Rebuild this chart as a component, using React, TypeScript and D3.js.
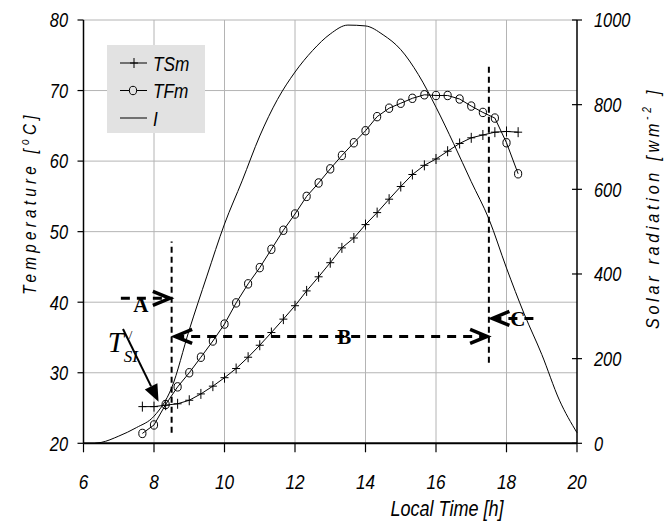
import React from 'react';
import * as d3 from 'd3';

// local time [h], 20 min steps
const hours = [7.67, 8.0, 8.33, 8.67, 9.0, 9.33, 9.67, 10.0, 10.33, 10.67, 11.0, 11.33, 11.67, 12.0, 12.33, 12.67, 13.0,
  13.33, 13.67, 14.0, 14.33, 14.67, 15.0, 15.33, 15.67, 16.0, 16.33, 16.67, 17.0, 17.33, 17.67, 18.0, 18.33];
const tsm = [25.2, 25.2, 25.4, 25.6, 26.1, 27.0, 28.1, 29.3, 30.6, 32.2, 33.9, 35.7, 37.6, 39.5, 41.6, 43.6, 45.6,
  47.7, 49.1, 51.0, 52.7, 54.6, 56.4, 58.1, 59.4, 60.3, 61.4, 62.5, 63.3, 63.7, 64.1, 64.2, 64.1];
const tfm = [21.4, 22.6, 25.5, 28.0, 30.0, 32.2, 34.5, 36.9, 39.9, 42.6, 44.9, 47.5, 50.2, 52.5, 55.0, 56.9, 58.9,
  60.8, 62.6, 64.3, 66.3, 67.5, 68.2, 68.9, 69.4, 69.3, 69.3, 68.8, 67.8, 66.9, 66.1, 62.6, 58.2];

// solar radiation I [W/m2]
const solarHours = [6.33, 6.5, 7.0, 7.5, 8.0, 8.5, 9.0, 9.5, 10.0, 10.5, 11.0, 11.5, 12.0, 12.5, 13.0, 13.5, 14.0,
  14.5, 15.0, 15.5, 16.0, 16.5, 17.0, 17.5, 18.0, 18.5, 19.0, 19.5, 20.0];
const solarValues = [0, 2, 17, 37, 64, 131, 268, 395, 518, 620, 726, 812, 877, 928, 967, 988, 986,
  965, 930, 871, 794, 708, 618, 530, 414, 306, 210, 102, 25];

const timeTicks = [6, 8, 10, 12, 14, 16, 18, 20];
const tempTicks = [20, 30, 40, 50, 60, 70, 80];
const radTicks = [0, 200, 400, 600, 800, 1000];

// annotation positions in data units (time, temperature)
const splitLines = [
  { t: 8.5, from: 21.5, to: 48.6 },
  { t: 17.5, from: 31.4, to: 73.4 },
];
const periods = [
  { label: 'A', t0: 7.06, t1: 8.45, temp: 40.55, lt: 7.63, ltemp: 38.6, heads: ['end'] },
  { label: 'B', t0: 8.6, t1: 17.45, temp: 35.15, lt: 13.4, ltemp: 34.1, heads: ['start', 'end'] },
  { label: 'C', t0: 17.6, t1: 18.84, temp: 37.7, lt: 18.32, ltemp: 36.6, heads: ['start'] },
];
const tsiArrow = { t0: 7.12, temp0: 36.2, t1: 8.13, temp1: 25.9 };
const tsiLabel = { t: 6.69, temp: 32.9 };

const sans = "'Liberation Sans', Arial, sans-serif";
const serif = "'Liberation Serif', 'Times New Roman', serif";

// narrow italic text (Arial Narrow look), squeezed horizontally
function NText(props: { x: number; y: number; size: number; anchor?: string; rotate?: number; sx?: number;
  spacing?: number; children: React.ReactNode }) {
  const { x, y, size, anchor = 'start', rotate = 0, sx = 0.82, spacing = 0, children } = props;
  return (
    <text transform={`translate(${x},${y}) rotate(${rotate}) scale(${sx},1)`} textAnchor={anchor}
      fontFamily={sans} fontStyle="italic" fontSize={size} letterSpacing={spacing}>{children}</text>
  );
}

export default function App() {
  const left = 83.5, right = 577, top = 20, bottom = 443.3;
  const x = d3.scaleLinear().domain([6, 20]).range([left, right]);
  const yT = d3.scaleLinear().domain([20, 80]).range([bottom, top]);
  const yI = d3.scaleLinear().domain([0, 1000]).range([bottom, top]);

  const tLine = d3.line<number>().x((d, i) => x(hours[i])).y(d => yT(d));
  const iLine = d3.line<number>().x((d, i) => x(solarHours[i])).y(d => yI(d)).curve(d3.curveMonotoneX);

  const plus = 'M-4,0H4M0,-5V5';
  const grid = '#b4b4b4';

  const chevron = (tipX: number, tipY: number, dir: number) =>
    `M${tipX - dir * 17},${tipY - 7}L${tipX},${tipY}L${tipX - dir * 17},${tipY + 7}`;

  const ax0 = x(tsiArrow.t0), ay0 = yT(tsiArrow.temp0), ax1 = x(tsiArrow.t1), ay1 = yT(tsiArrow.temp1);
  const ang = Math.atan2(ay1 - ay0, ax1 - ax0);
  const hl = 17, hw = 7;
  const bx = ax1 - hl * Math.cos(ang), by = ay1 - hl * Math.sin(ang);
  const head = `M${ax1},${ay1}L${bx + hw * Math.sin(ang)},${by - hw * Math.cos(ang)}L${bx - hw * Math.sin(ang)},${by + hw * Math.cos(ang)}Z`;

  const legend = [
    { name: 'TSm', mark: 'plus' },
    { name: 'TFm', mark: 'circle' },
    { name: 'I', mark: 'none' },
  ];

  return (
    <svg width={668} height={522} style={{ position: 'absolute', left: 0, top: 0, background: '#fff' }}>
      {/* grid */}
      {timeTicks.slice(1, -1).map(t => (
        <line key={'gx' + t} x1={x(t)} x2={x(t)} y1={top} y2={bottom} stroke={grid} strokeWidth={1} />
      ))}
      {tempTicks.slice(1).map(v => (
        <line key={'gy' + v} x1={left} x2={right} y1={yT(v)} y2={yT(v)} stroke={grid} strokeWidth={1} />
      ))}

      {/* axes */}
      <line x1={left} x2={left} y1={top} y2={bottom} stroke="#000" strokeWidth={1.5} />
      <line x1={right} x2={right} y1={top} y2={bottom} stroke="#000" strokeWidth={1.5} />
      <line x1={left} x2={right} y1={bottom} y2={bottom} stroke="#000" strokeWidth={2} />
      {tempTicks.map(v => (
        <g key={'lt' + v}>
          <line x1={left - 6} x2={left} y1={yT(v)} y2={yT(v)} stroke="#000" strokeWidth={1.2} />
          <NText x={68} y={yT(v) + 7.3} size={20} anchor="end">{v}</NText>
        </g>
      ))}
      {radTicks.map(v => (
        <g key={'rt' + v}>
          <line x1={right - 5} x2={right + 5} y1={yI(v)} y2={yI(v)} stroke="#000" strokeWidth={1.2} />
          <NText x={594} y={yI(v) + 7.3} size={20}>{v}</NText>
        </g>
      ))}
      {timeTicks.map(t => (
        <g key={'bt' + t}>
          <line x1={x(t)} x2={x(t)} y1={bottom} y2={bottom + 9} stroke="#000" strokeWidth={1.2} />
          <NText x={x(t)} y={489} size={21} anchor="middle">{t}</NText>
        </g>
      ))}

      {/* axis titles */}
      <NText x={447} y={516} size={22} anchor="middle">Local Time [h]</NText>
      <NText x={36} y={203} size={18} anchor="middle" rotate={-90} sx={0.85} spacing={5}>
        Temperature [<tspan fontSize={12} dy={-7}>o</tspan><tspan dy={7}>C]</tspan>
      </NText>
      <NText x={659} y={208} size={19} anchor="middle" rotate={-90} sx={0.85} spacing={4.4}>
        Solar radiation [wm<tspan fontSize={12} dy={-8}>-2</tspan><tspan dy={8}> ]</tspan>
      </NText>

      {/* series */}
      <path d={iLine(solarValues) || ''} fill="none" stroke="#000" strokeWidth={1} />
      <path d={tLine(tsm) || ''} fill="none" stroke="#000" strokeWidth={1} />
      <path d={tLine(tfm) || ''} fill="none" stroke="#000" strokeWidth={1} />
      {tsm.map((v, i) => (
        <path key={'p' + i} d={plus} transform={`translate(${x(hours[i])},${yT(v)})`} stroke="#000" strokeWidth={1} />
      ))}
      {tfm.map((v, i) => (
        <ellipse key={'c' + i} cx={x(hours[i])} cy={yT(v)} rx={3.6} ry={4.2} fill="none" stroke="#000" strokeWidth={1} />
      ))}

      {/* annotations */}
      {splitLines.map(s => (
        <line key={'s' + s.t} x1={x(s.t)} x2={x(s.t)} y1={yT(s.from)} y2={yT(s.to)} stroke="#000" strokeWidth={2}
          strokeDasharray="6,4" />
      ))}
      {periods.map(p => {
        const x0 = x(p.t0), x1 = x(p.t1), yy = yT(p.temp);
        return (
          <g key={p.label}>
            <line x1={x0} x2={x1} y1={yy} y2={yy} stroke="#000" strokeWidth={3} strokeDasharray="9,7" />
            {p.heads.includes('end') && <path d={chevron(x1, yy, 1)} fill="none" stroke="#000" strokeWidth={3.5} />}
            {p.heads.includes('start') && <path d={chevron(x0, yy, -1)} fill="none" stroke="#000" strokeWidth={3.5} />}
            <text x={x(p.lt)} y={yT(p.ltemp)} textAnchor="middle" fontFamily={serif} fontWeight="bold" fontSize={21}>{p.label}</text>
          </g>
        );
      })}
      <text x={x(tsiLabel.t)} y={yT(tsiLabel.temp)} fontFamily={serif} fontStyle="italic" fontSize={29}>T</text>
      <text x={x(tsiLabel.t) + 16} y={yT(tsiLabel.temp) + 10} fontFamily={serif} fontStyle="italic" fontSize={17}>SI</text>
      <text x={x(tsiLabel.t) + 21} y={yT(tsiLabel.temp) - 13} fontFamily={serif} fontSize={13}>/</text>
      <line x1={ax0} y1={ay0} x2={bx} y2={by} stroke="#000" strokeWidth={2} />
      <path d={head} fill="#000" />

      {/* legend */}
      <rect x={107} y={45} width={98} height={88} fill="#e2e2e2" />
      {legend.map((l, i) => {
        const ly = 63 + i * 27.5;
        return (
          <g key={l.name}>
            <line x1={120} x2={147} y1={ly} y2={ly} stroke="#000" strokeWidth={1} />
            {l.mark === 'plus' && <path d={plus} transform={`translate(134,${ly})`} stroke="#000" strokeWidth={1} />}
            {l.mark === 'circle' && <ellipse cx={133} cy={ly} rx={3.6} ry={4.2} fill="#e2e2e2" stroke="#000" strokeWidth={1} />}
            <NText x={153} y={ly + 7.5} size={21}>{l.name}</NText>
          </g>
        );
      })}
    </svg>
  );
}
